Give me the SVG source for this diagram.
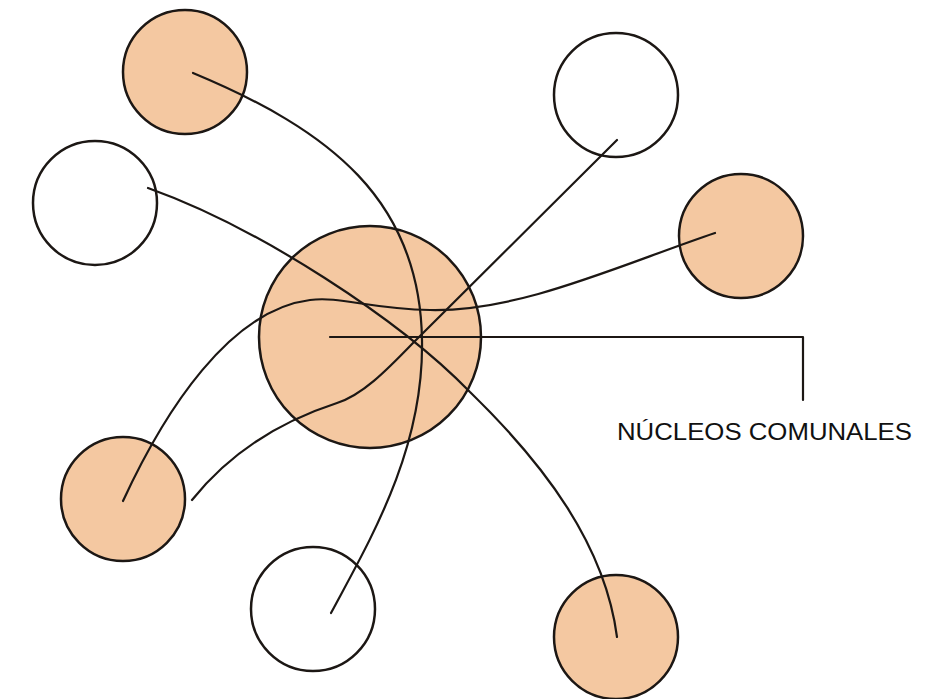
<svg xmlns="http://www.w3.org/2000/svg" width="948" height="699" viewBox="0 0 948 699">
<style>
.n{stroke:#1c1714;stroke-width:2.5}
.o{fill:#F4C8A1}
.w{fill:#fff}
.c{fill:none;stroke:#1c1714;stroke-width:2.2;stroke-linecap:round;stroke-linejoin:round}
.t{font-family:"Liberation Sans",Arial,sans-serif;font-size:23.5px;fill:#111}
</style>
<rect width="948" height="699" fill="#fff"/>
<g id="nodes">
<g id="center"><circle class="n o" cx="370" cy="337" r="111"/></g>
<g id="n1"><circle class="n o" cx="185" cy="72" r="62"/></g>
<g id="n2"><circle class="n w" cx="95" cy="203" r="62"/></g>
<g id="n3"><circle class="n w" cx="616" cy="95" r="62"/></g>
<g id="n4"><circle class="n o" cx="741" cy="236" r="62"/></g>
<g id="n5"><circle class="n o" cx="123" cy="499" r="62"/></g>
<g id="n6"><circle class="n w" cx="313" cy="609" r="62"/></g>
<g id="n7"><circle class="n o" cx="616" cy="637" r="62"/></g>
</g>
<g id="connectors">
<path class="c" d="M193,73 C330,130 420,200 422,340 C424,450 370,540 331,613"/>
<path class="c" d="M148,188 C260,228 400,320 470,392 C545,465 605,545 617,637"/>
<path class="c" d="M617,140 L413,343 C385,372 362,395 337,403 C300,415 240,440 192,500"/>
<path class="c" d="M715,233 C620,265 520,312 430,310 C370,309 340,296 310,300 C230,310 165,410 123,501"/>
<path class="c" d="M330,337 L803,337 L803,400"/>
</g>
<g id="label"><text class="t" x="617" y="440" textLength="295" lengthAdjust="spacingAndGlyphs">NÚCLEOS COMUNALES</text></g>
</svg>
